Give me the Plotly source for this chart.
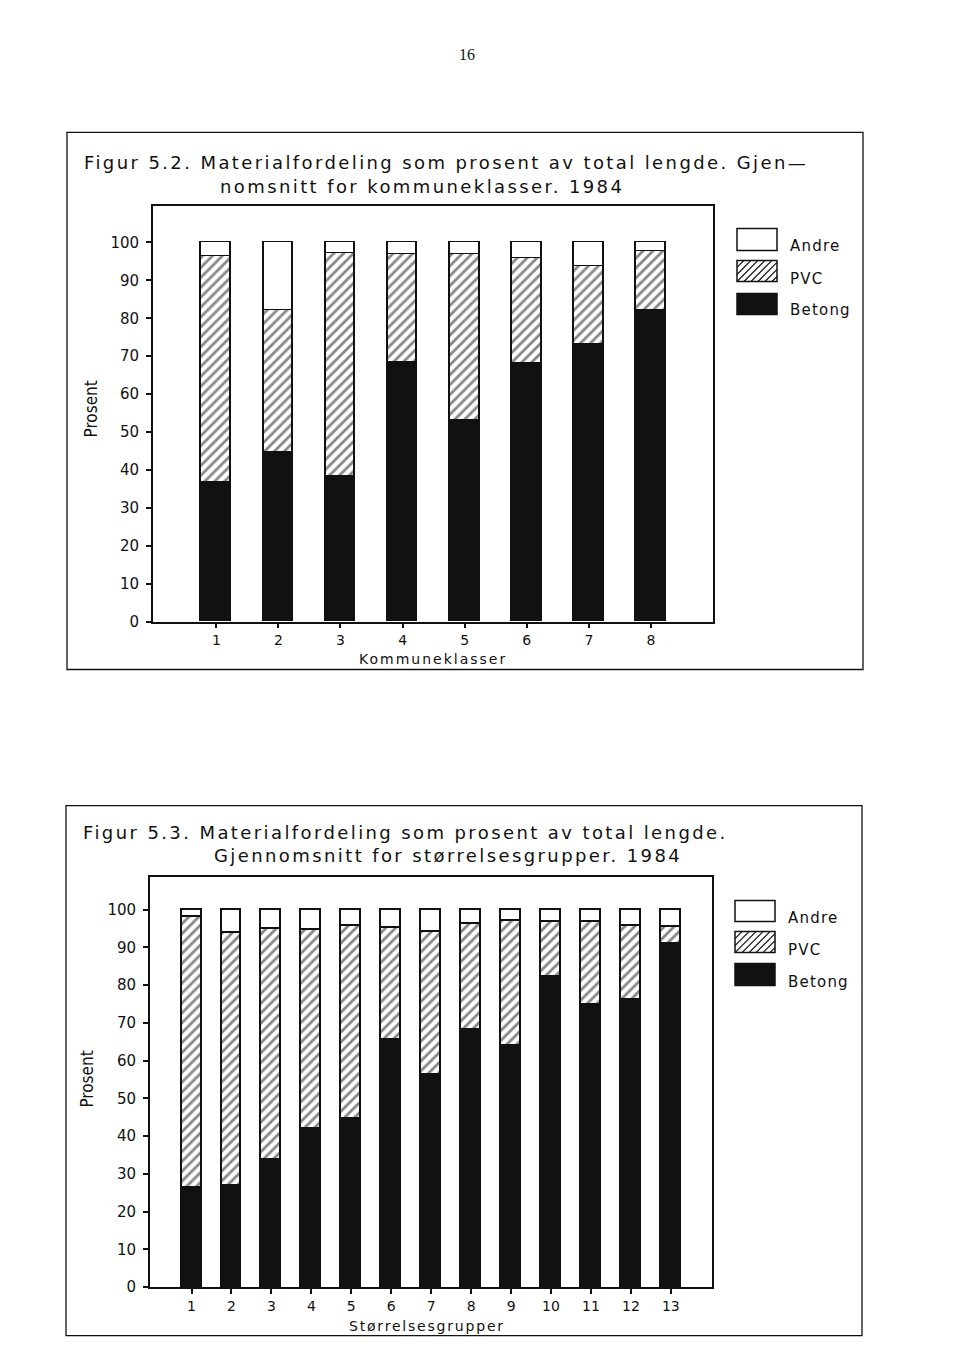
import plotly.graph_objects as go

W, H = 960, 1360

# ---------------- data ----------------
kommuneklasser = ["1", "2", "3", "4", "5", "6", "7", "8"]
betong_k = [36.6, 44.5, 38.3, 68.3, 53.1, 68.0, 73.1, 82.1]
pvc_k = [59.8, 37.6, 58.8, 28.5, 43.7, 27.7, 20.7, 15.6]
andre_k = [3.6, 17.9, 2.9, 3.2, 3.2, 4.3, 6.2, 2.3]

storrelsesgrupper = ["1", "2", "3", "4", "5", "6", "7", "8", "9", "10", "11", "12", "13"]
betong_s = [26.4, 27.0, 33.9, 42.0, 44.6, 65.6, 56.3, 68.3, 64.1, 82.2, 74.9, 76.1, 90.9]
pvc_s = [71.7, 67.0, 61.0, 52.7, 51.2, 29.7, 38.0, 28.0, 33.1, 14.7, 22.0, 19.7, 4.7]
andre_s = [1.9, 6.0, 5.1, 5.3, 4.2, 4.7, 5.7, 3.7, 2.8, 3.1, 3.1, 4.2, 4.4]

y_ticks = [0, 10, 20, 30, 40, 50, 60, 70, 80, 90, 100]
series_names = ["Andre", "PVC", "Betong"]

INK = "#111111"
FONT = "DejaVu Sans, Verdana, sans-serif"
NARROW = "Liberation Sans Narrow, DejaVu Sans Condensed, Arial Narrow, sans-serif"


def fx(x):
    return x / W


def fy(y):
    # vertical page position (px from top) -> paper coordinate
    yc = (y - 0.6) / 0.9932
    return 1 - yc / H


def spaced(s, ls):
    return f'<span style="letter-spacing:{ls}px">{s}</span>'


fig = go.Figure()


def add_chart(cats, betong, pvc, andre, xa, ya, width):
    xs = list(range(1, len(cats) + 1))
    line = dict(color=INK, width=1.6)
    fig.add_trace(go.Bar(x=xs, y=betong, name="Betong", width=width,
                         marker=dict(color=INK, line=line),
                         xaxis=xa, yaxis=ya, showlegend=False))
    fig.add_trace(go.Bar(x=xs, y=pvc, name="PVC", width=width,
                         marker=dict(color="white", line=line,
                                     pattern=dict(shape="/", fgcolor=INK, bgcolor="white",
                                                  size=7, solidity=0.4)),
                         xaxis=xa, yaxis=ya, showlegend=False))
    fig.add_trace(go.Bar(x=xs, y=andre, name="Andre", width=width,
                         marker=dict(color="white", line=line),
                         xaxis=xa, yaxis=ya, showlegend=False))


add_chart(kommuneklasser, betong_k, pvc_k, andre_k, "x", "y", 0.48)
add_chart(storrelsesgrupper, betong_s, pvc_s, andre_s, "x2", "y2", 0.5)

ytickfont = dict(family=FONT, size=15, color=INK)
xtickfont = dict(family=FONT, size=14, color=INK)


def xaxis_cfg(dom, rng, cats, anchor):
    return dict(domain=dom, range=rng, anchor=anchor,
                tickmode="array", tickvals=list(range(1, len(cats) + 1)), ticktext=cats,
                ticks="outside", ticklen=5, tickwidth=1.5, tickcolor=INK,
                showline=True, linecolor=INK, linewidth=1.8, mirror=True,
                showgrid=False, zeroline=False, tickfont=xtickfont, fixedrange=True)


def yaxis_cfg(dom, rng, anchor):
    return dict(domain=dom, range=rng, anchor=anchor,
                tickmode="array", tickvals=y_ticks,
                ticks="outside", ticklen=5, tickwidth=1.5, tickcolor=INK,
                ticklabelstandoff=4,
                showline=True, linecolor=INK, linewidth=1.8, mirror=True,
                showgrid=False, zeroline=False, tickfont=ytickfont, fixedrange=True)


def yaxis_inner(over, rng, anchor):
    return dict(overlaying=over, range=rng, anchor=anchor, side="left",
                tickmode="array", tickvals=y_ticks[1:],
                ticks="inside", ticklen=5, tickwidth=1.5, tickcolor=INK,
                showticklabels=False, showline=False, showgrid=False,
                zeroline=False, fixedrange=True)


r1 = [0, (622 - 207) / 3.79]
r2 = [0, (1287.5 - 877) / 3.775]

fig.update_layout(
    width=W, height=H,
    margin=dict(l=0, r=0, t=0, b=0),
    paper_bgcolor="white", plot_bgcolor="white",
    barmode="stack", bargap=0,
    xaxis=xaxis_cfg([fx(153), fx(713)], [-0.02, 9.0], kommuneklasser, "y"),
    yaxis=yaxis_cfg([fy(622), fy(207)], r1, "x"),
    xaxis2=xaxis_cfg([fx(150), fx(712)], [-0.04, 14.03], storrelsesgrupper, "y2"),
    yaxis2=yaxis_cfg([fy(1287.5), fy(877)], r2, "x2"),
    yaxis3=yaxis_inner("y", r1, "x"),
    yaxis4=yaxis_inner("y2", r2, "x2"),
)

annotations = []


def text(x, y, s, size, family=FONT, xanchor="left", angle=0):
    annotations.append(dict(x=fx(x), y=fy(y), xref="paper", yref="paper", text=s,
                            showarrow=False, xanchor=xanchor, yanchor="middle",
                            textangle=angle, font=dict(family=family, size=size, color=INK)))


# page number
text(467, 55, "16", 16, family="Liberation Serif, DejaVu Serif, serif", xanchor="center")

# titles
text(82, 163, spaced("Figur 5.2. Materialfordeling som prosent av total lengde. Gjen\u2014", 2.4), 18)
text(218, 187, spaced("nomsnitt for kommuneklasser. 1984", 2.4), 18)
text(81, 833, spaced("Figur 5.3. Materialfordeling som prosent av total lengde.", 2.4), 18)
text(212, 856, spaced("Gjennomsnitt for størrelsesgrupper. 1984", 2.4), 18)

# y titles
text(91, 410, "Prosent", 17, family=NARROW, xanchor="center", angle=-90)
text(87, 1080, "Prosent", 17, family=NARROW, xanchor="center", angle=-90)

# x titles
text(433, 659, spaced("Kommuneklasser", 2.0), 14, xanchor="center")
text(427, 1326, spaced("Størrelsesgrupper", 1.8), 14, xanchor="center")

shapes = []


def rect(x0, y0, x1, y1, fill="rgba(0,0,0,0)", w=1.5):
    shapes.append(dict(type="rect", xref="paper", yref="paper",
                       x0=fx(x0), x1=fx(x1), y0=fy(y1), y1=fy(y0),
                       line=dict(color=INK, width=w), fillcolor=fill, layer="above"))


def hatch(x0, y0, x1, y1, step=7):
    segs = []
    c = x0 + y0 + step
    while c < x1 + y1:
        ya = min(y1, c - x0)
        xa = c - ya
        yb = max(y0, c - x1)
        xb = c - yb
        segs.append(f"M{fx(xa):.5f},{fy(ya):.5f} L{fx(xb):.5f},{fy(yb):.5f}")
        c += step
    shapes.append(dict(type="path", xref="paper", yref="paper", path=" ".join(segs),
                       line=dict(color=INK, width=1.2), layer="above"))


# figure frames
rect(67, 133, 863, 670, w=1.3)
rect(66, 806, 862, 1336, w=1.3)


def legend(x0, boxes, label_ys):
    (a0, a1), (p0, p1), (b0, b1) = boxes
    rect(x0, a0, x0 + 40, a1)
    hatch(x0, p0, x0 + 40, p1)
    rect(x0, p0, x0 + 40, p1)
    rect(x0, b0, x0 + 40, b1, fill=INK)
    for name, ly in zip(series_names, label_ys):
        text(x0 + 51, ly, spaced(name, 1.2), 15)


legend(737, [(229, 251), (261, 282), (294, 315)], [247, 280, 311])
legend(735, [(901, 922), (932, 953), (964, 986)], [918, 950, 982])

fig.update_layout(annotations=annotations, shapes=shapes)

fig.write_html("out.html")
